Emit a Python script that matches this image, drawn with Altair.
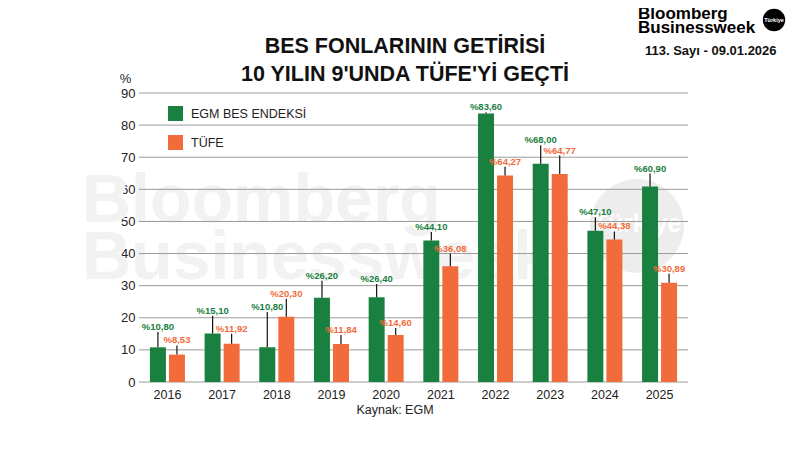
import altair as alt
import pandas as pd

FONT = "Liberation Sans, Arial, sans-serif"

years = ["2016", "2017", "2018", "2019", "2020", "2021", "2022", "2023", "2024", "2025"]
series = ["EGM BES ENDEKSİ", "TÜFE"]
bes = [10.80, 15.10, 10.80, 26.20, 26.40, 44.10, 83.60, 68.00, 47.10, 60.90]
tufe = [8.53, 11.92, 20.30, 11.84, 14.60, 36.08, 64.27, 64.77, 44.38, 30.89]
# height (in %) where each value label sits
bes_label_at = [15.6, 20.6, 21.8, 31.5, 30.5, 46.7, 84.0, 73.7, 51.3, 64.9]
tufe_label_at = [11.4, 15.0, 25.9, 14.6, 16.8, 40.0, 67.0, 70.5, 46.9, 33.7]
y_ticks = [0, 10, 20, 30, 40, 50, 60, 70, 80, 90]
colors = ["#19803f", "#f26b3a"]

rows = []
for i, yr in enumerate(years):
    rows.append({"year": yr, "series": series[0], "value": bes[i], "label_at": bes_label_at[i]})
    rows.append({"year": yr, "series": series[1], "value": tufe[i], "label_at": tufe_label_at[i]})
df = pd.DataFrame(rows)
df["label"] = df["value"].map(lambda v: "%" + f"{v:.2f}".replace(".", ","))
grid_df = pd.DataFrame({"g": y_ticks})

W, H = 549, 289

X = alt.X("year:N", sort=years,
          scale=alt.Scale(paddingInner=0.36, paddingOuter=0.2),
          axis=alt.Axis(title=None, labelAngle=0, domain=False, ticks=False,
                        labelPadding=6, labelFontSize=12.5, labelColor="#222",
                        labelFont=FONT))
XO = alt.XOffset("series:N", sort=series,
                 scale=alt.Scale(domain=series, paddingInner=0.16))
YS = alt.Scale(domain=[0, 90], nice=False)
YAX = alt.Axis(title="%", titleAngle=0, titleAlign="center",
               titleBaseline="alphabetic", titleX=-14, titleY=-11,
               titleFontWeight="normal", titleFontSize=13,
               titleFont=FONT, titleColor="#222",
               values=y_ticks, grid=False, domain=False, ticks=False,
               labelOverlap=False,
               labelPadding=4, labelFontSize=13, labelColor="#222",
               labelFont=FONT)
COL = alt.Color("series:N", sort=series,
                scale=alt.Scale(domain=series, range=colors),
                legend=alt.Legend(title=None, orient="none", legendX=29, legendY=13,
                                  symbolType="square", symbolSize=225,
                                  symbolStrokeWidth=0, symbolOpacity=1,
                                  labelFontSize=12.5, labelFont=FONT,
                                  labelColor="#222", rowPadding=14, padding=0,
                                  labelOffset=8, labelLimit=0))


def txt(t, x, y, size, weight="normal", color="#111", align="center", font=FONT):
    return alt.Chart(pd.DataFrame({"t": [t]})).mark_text(
        fontSize=size, fontWeight=weight, color=color, align=align,
        baseline="alphabetic", font=font
    ).encode(text="t:N", x=alt.value(x), y=alt.value(y))


wm_circle = alt.Chart(pd.DataFrame({"t": ["o"]})).mark_circle(
    size=8800, color="#ededed", opacity=1
).encode(x=alt.value(498), y=alt.value(133))
wm1 = txt("Bloomberg", -57, 129, 68, "bold", "#f2f2f2", "left")
wm2 = txt("Businessweek", -57, 186, 68, "bold", "#f2f2f2", "left")
wm3 = txt("Türkiye", 498, 139, 25, "bold", "#ffffff")

grid = alt.Chart(grid_df).mark_rule(color="#9a9a9a", strokeWidth=1).encode(
    y=alt.Y("g:Q", scale=YS, axis=YAX)
)

bars = alt.Chart(df).mark_bar().encode(
    x=X, xOffset=XO,
    y=alt.Y("value:Q", scale=YS, axis=YAX),
    color=COL,
)

ticks = alt.Chart(df).mark_rule(color="#111", strokeWidth=1.2).encode(
    x=X, xOffset=XO,
    y=alt.Y("value:Q", scale=YS, axis=YAX), y2="label_at:Q",
)

labels = alt.Chart(df).mark_text(
    fontSize=9.5, fontWeight="bold", baseline="alphabetic", dy=-2, font=FONT
).encode(
    x=X, xOffset=XO,
    y=alt.Y("label_at:Q", scale=YS, axis=YAX),
    text="label:N",
    color=alt.Color("series:N", sort=series,
                    scale=alt.Scale(domain=series, range=colors), legend=None),
)

title1 = txt("BES FONLARININ GETİRİSİ", 266, -40, 21.5, "bold", "#111")
title2 = txt("10 YILIN 9'UNDA TÜFE'Yİ GEÇTİ", 266, -12, 21.5, "bold", "#111")
logo1 = txt("Bloomberg", 499, -74, 17, "bold", "#000", "left")
logo2 = txt("Businessweek", 499, -60, 17, "bold", "#000", "left")
logo_dot = alt.Chart(pd.DataFrame({"t": ["o"]})).mark_circle(
    size=500, color="#000", opacity=1
).encode(x=alt.value(635), y=alt.value(-73))
logo_tr = txt("Türkiye", 635, -71, 5.5, "bold", "#fff")
issue = txt("113. Sayı - 09.01.2026", 506, -38, 13, "bold", "#111", "left")
source = txt("Kaynak: EGM", 256, 321, 12.5, "normal", "#222")

chart = alt.layer(
    wm_circle, wm1, wm2, wm3, grid, bars, ticks, labels,
    title1, title2, logo1, logo2, logo_dot, logo_tr, issue, source
).resolve_scale(color="shared").properties(
    width=W, height=H,
    autosize=alt.AutoSizeParams(type="none"),
    padding={"left": 131, "top": 85, "right": 104, "bottom": 60},
    background="white",
).configure_view(stroke=None)

chart.save("out.html", embed_options={"renderer": "svg", "actions": False})
